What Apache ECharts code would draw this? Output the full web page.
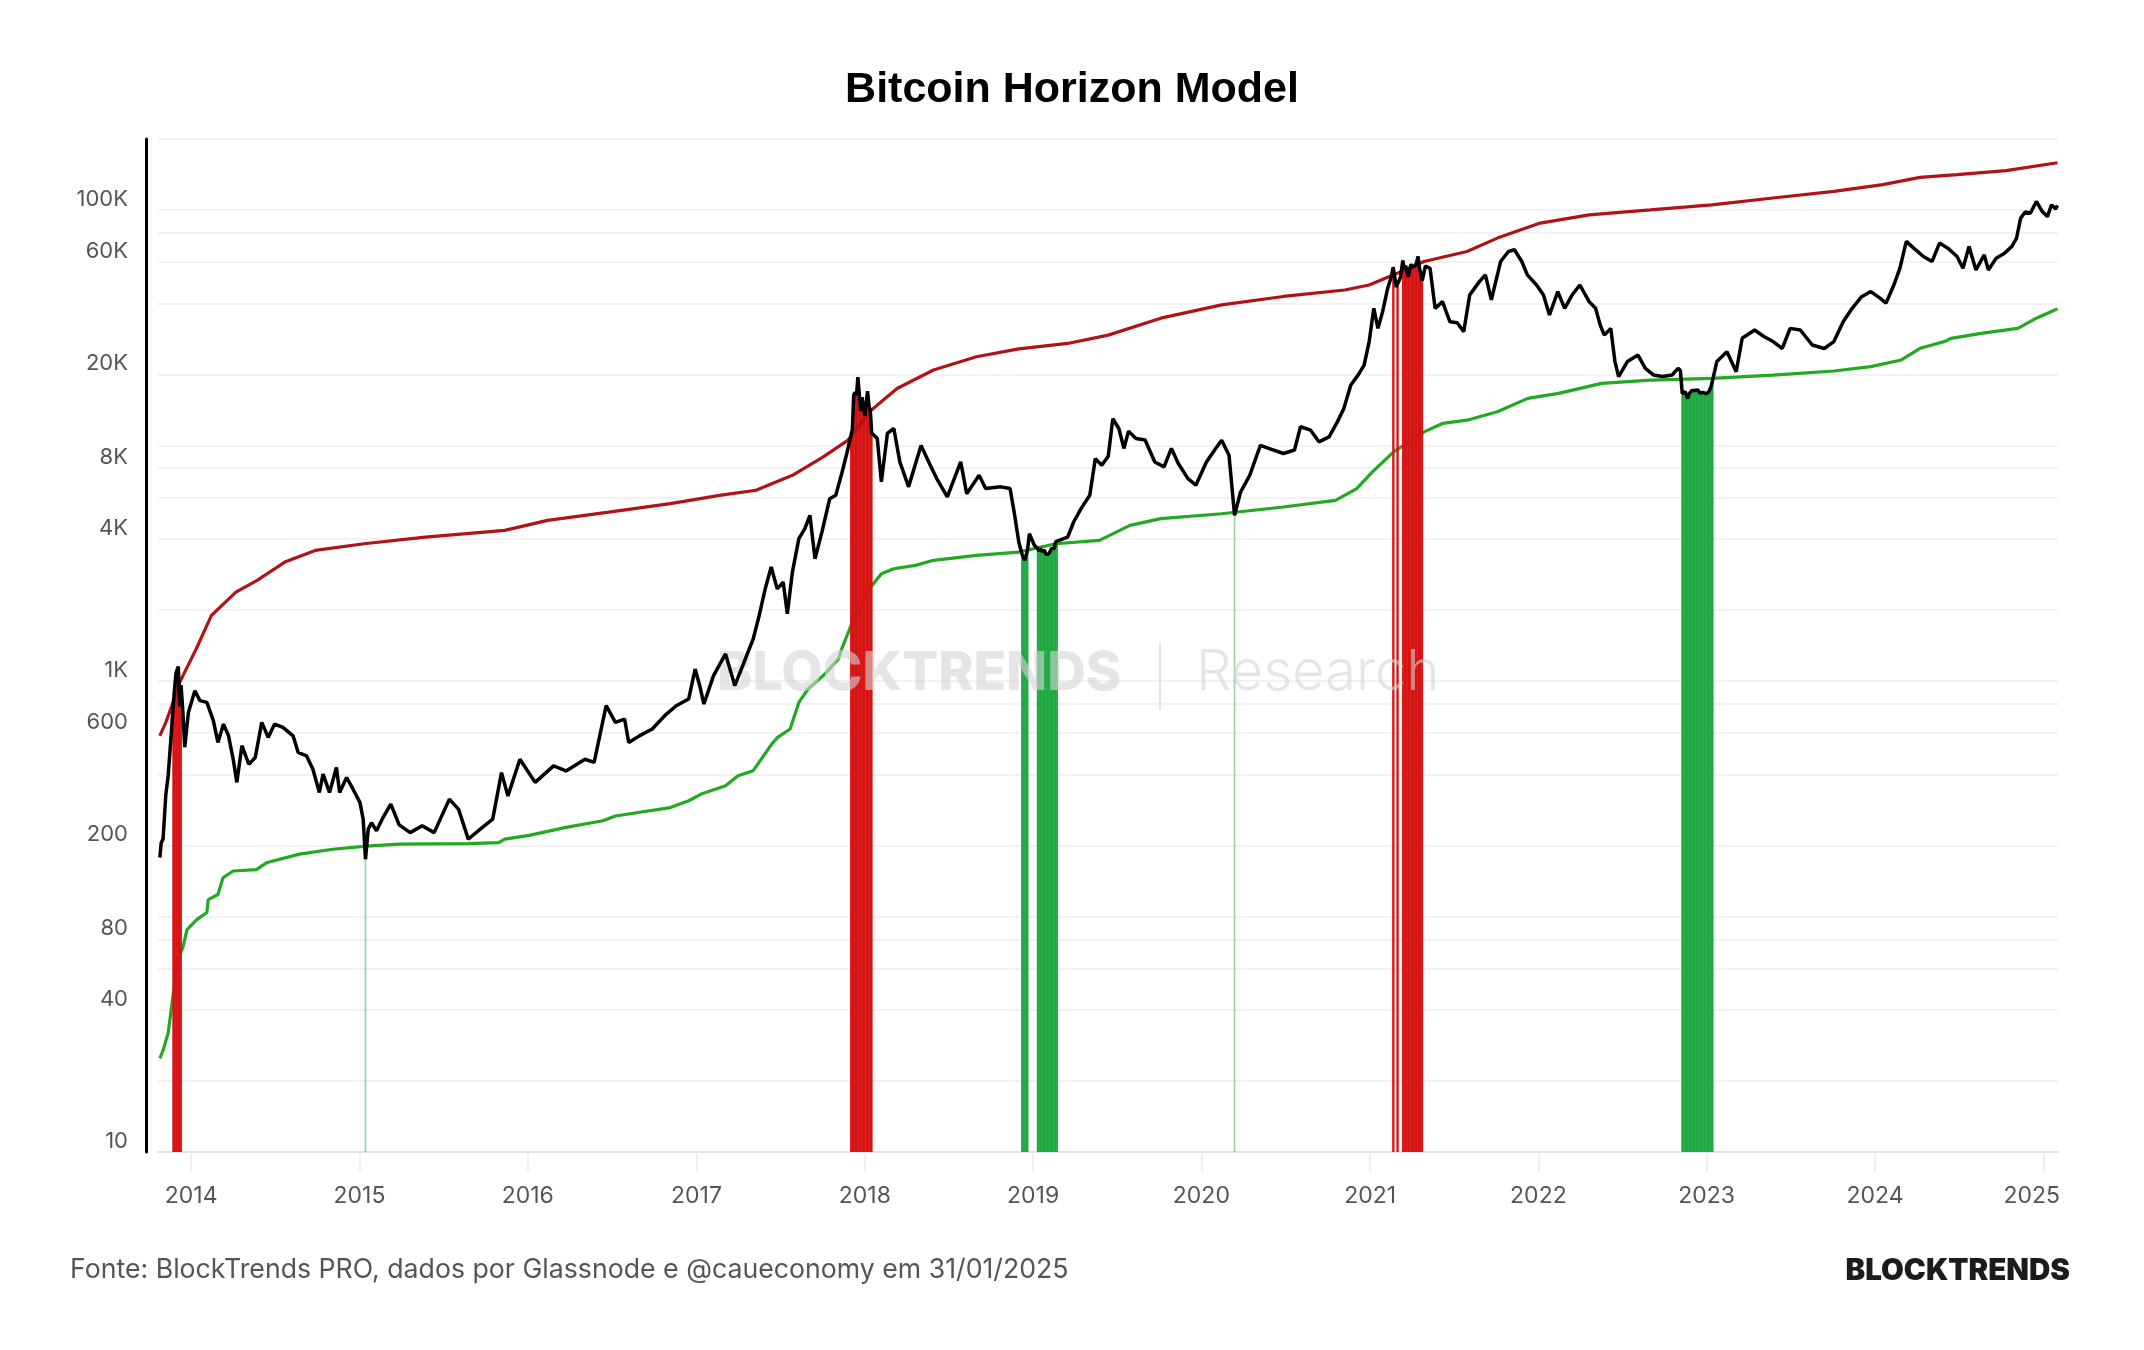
<!DOCTYPE html>
<html>
<head>
<meta charset="utf-8">
<title>Bitcoin Horizon Model</title>
<script src="https://cdn.jsdelivr.net/npm/echarts@6/dist/echarts.min.js"></script>
<style>
  html, body { margin: 0; padding: 0; background: #fff; }
  #chart { width: 2144px; height: 1350px; }
</style>
</head>
<body>
<div id="chart"></div>
<script>
// BTC price (USD)
const price = [
  ['2013-10-25', 178], ['2013-10-28', 206], ['2013-11-01', 213], ['2013-11-07', 330], ['2013-11-12', 395],
  ['2013-11-19', 605], ['2013-11-23', 790], ['2013-11-26', 930], ['2013-11-29', 1080], ['2013-12-01', 1100],
  ['2013-12-04', 1150], ['2013-12-07', 780], ['2013-12-10', 960], ['2013-12-14', 736], ['2013-12-18', 523],
  ['2013-12-26', 736], ['2014-01-09', 909], ['2014-01-20', 825], ['2014-02-04', 811], ['2014-02-18', 678],
  ['2014-02-28', 548], ['2014-03-12', 656], ['2014-03-23', 585], ['2014-04-02', 466], ['2014-04-10', 371],
  ['2014-04-21', 531], ['2014-05-06', 443], ['2014-05-20', 473], ['2014-06-03', 667], ['2014-06-17', 576],
  ['2014-07-01', 656], ['2014-07-19', 635], ['2014-08-10', 585], ['2014-08-21', 497], ['2014-09-08', 481],
  ['2014-09-22', 422], ['2014-10-06', 336], ['2014-10-14', 402], ['2014-10-28', 336], ['2014-11-12', 429],
  ['2014-11-19', 336], ['2014-12-04', 389], ['2014-12-18', 347], ['2015-01-02', 305], ['2015-01-09', 259],
  ['2015-01-14', 175], ['2015-01-20', 235], ['2015-01-27', 250], ['2015-02-07', 231], ['2015-02-21', 263],
  ['2015-03-10', 300], ['2015-03-28', 245], ['2015-04-21', 227], ['2015-05-17', 243], ['2015-06-12', 227],
  ['2015-07-15', 315], ['2015-08-04', 285], ['2015-08-25', 213], ['2015-09-20', 235], ['2015-10-17', 259],
  ['2015-11-05', 408], ['2015-11-19', 325], ['2015-12-15', 465], ['2016-01-17', 371], ['2016-02-26', 436],
  ['2016-03-24', 415], ['2016-05-04', 465], ['2016-05-24', 451], ['2016-06-19', 785], ['2016-07-09', 667],
  ['2016-07-29', 689], ['2016-08-07', 548], ['2016-08-31', 586], ['2016-09-27', 625], ['2016-10-24', 712],
  ['2016-11-18', 785], ['2016-12-15', 838], ['2016-12-29', 1124], ['2017-01-08', 955], ['2017-01-17', 798],
  ['2017-02-07', 1054], ['2017-03-05', 1303], ['2017-03-25', 955], ['2017-04-14', 1200], ['2017-05-04', 1510],
  ['2017-05-17', 1897], ['2017-05-30', 2461], ['2017-06-12', 3046], ['2017-06-25', 2461], ['2017-07-08', 2630],
  ['2017-07-17', 1929], ['2017-07-28', 2900], ['2017-08-11', 4018], ['2017-08-24', 4434], ['2017-09-04', 5050],
  ['2017-09-15', 3300], ['2017-09-30', 4290], ['2017-10-17', 5940], ['2017-10-30', 6140], ['2017-11-12', 7600],
  ['2017-11-23', 9240], ['2017-12-02', 11000], ['2017-12-05', 11700], ['2017-12-08', 16400], ['2017-12-11', 16800],
  ['2017-12-14', 16300], ['2017-12-17', 19500], ['2017-12-20', 16500], ['2017-12-23', 14000], ['2017-12-26', 16000],
  ['2017-12-29', 14500], ['2018-01-01', 13400], ['2018-01-04', 15200], ['2018-01-07', 17000], ['2018-01-10', 14800],
  ['2018-01-13', 14000], ['2018-01-16', 11300], ['2018-01-28', 10700], ['2018-02-06', 7000], ['2018-02-19', 11240],
  ['2018-03-05', 11800], ['2018-03-18', 8510], ['2018-04-06', 6670], ['2018-05-03', 10000], ['2018-05-23', 8240],
  ['2018-06-06', 7230], ['2018-06-29', 6040], ['2018-07-28', 8510], ['2018-08-10', 6240], ['2018-09-06', 7470],
  ['2018-09-20', 6560], ['2018-10-23', 6670], ['2018-11-12', 6560], ['2018-11-21', 5210], ['2018-12-01', 3890],
  ['2018-12-08', 3450], ['2018-12-11', 3400], ['2018-12-14', 3250], ['2018-12-17', 3300], ['2018-12-20', 3600],
  ['2018-12-24', 4220], ['2019-01-04', 3760], ['2019-01-11', 3650], ['2019-01-14', 3550], ['2019-01-17', 3650],
  ['2019-01-20', 3550], ['2019-01-23', 3580], ['2019-01-26', 3580], ['2019-01-29', 3450], ['2019-02-01', 3480],
  ['2019-02-04', 3450], ['2019-02-07', 3400], ['2019-02-10', 3650], ['2019-02-13', 3600], ['2019-02-16', 3650],
  ['2019-02-19', 3900], ['2019-02-22', 3950], ['2019-03-17', 4080], ['2019-03-30', 4730], ['2019-04-15', 5390],
  ['2019-05-04', 6140], ['2019-05-16', 8790], ['2019-05-30', 8240], ['2019-06-13', 9000], ['2019-06-23', 13000],
  ['2019-07-06', 11800], ['2019-07-17', 9710], ['2019-07-27', 11500], ['2019-08-12', 10700], ['2019-09-01', 10550],
  ['2019-09-22', 8510], ['2019-10-12', 8110], ['2019-10-28', 9710], ['2019-11-12', 8380], ['2019-12-03', 7230],
  ['2019-12-20', 6780], ['2020-01-12', 8510], ['2020-02-01', 9710], ['2020-02-14', 10520], ['2020-03-01', 9080],
  ['2020-03-13', 5050], ['2020-03-26', 6340], ['2020-04-15', 7470], ['2020-05-08', 10000], ['2020-05-26', 9710],
  ['2020-06-27', 9240], ['2020-07-21', 9560], ['2020-08-03', 12000], ['2020-08-25', 11610], ['2020-09-12', 10360],
  ['2020-10-04', 10870], ['2020-10-22', 12590], ['2020-11-05', 14350], ['2020-11-20', 18030], ['2020-12-06', 19900],
  ['2020-12-19', 21940], ['2020-12-30', 27600], ['2021-01-09', 38200], ['2021-01-18', 31400], ['2021-01-28', 36900],
  ['2021-02-08', 46400], ['2021-02-16', 52000], ['2021-02-20', 57000], ['2021-02-21', 57500], ['2021-02-27', 47000],
  ['2021-03-01', 49500], ['2021-03-02', 48500], ['2021-03-08', 52000], ['2021-03-13', 61000], ['2021-03-16', 56000],
  ['2021-03-19', 58000], ['2021-03-22', 54500], ['2021-03-25', 52000], ['2021-03-28', 55800], ['2021-03-31', 58800],
  ['2021-04-03', 57000], ['2021-04-06', 58000], ['2021-04-09', 58000], ['2021-04-12', 60000], ['2021-04-15', 63500],
  ['2021-04-18', 56500], ['2021-04-21', 54000], ['2021-04-24', 50000], ['2021-05-01', 57800], ['2021-05-11', 56500],
  ['2021-05-22', 38200], ['2021-06-07', 40800], ['2021-06-23', 33500], ['2021-07-09', 33200], ['2021-07-23', 30400],
  ['2021-08-05', 43500], ['2021-08-26', 49600], ['2021-09-08', 53000], ['2021-09-21', 41500], ['2021-10-11', 60400],
  ['2021-10-28', 66600], ['2021-11-10', 67700], ['2021-11-26', 60400], ['2021-12-08', 53000], ['2021-12-28', 48000],
  ['2022-01-12', 43500], ['2022-01-25', 35800], ['2022-02-12', 45000], ['2022-02-27', 38200], ['2022-03-15', 43500],
  ['2022-04-01', 48000], ['2022-04-21', 40800], ['2022-05-05', 38200], ['2022-05-15', 32500], ['2022-05-24', 29400],
  ['2022-06-07', 31400], ['2022-06-16', 22700], ['2022-06-24', 19600], ['2022-07-13', 22700], ['2022-08-05', 24200],
  ['2022-08-21', 21250], ['2022-09-08', 19900], ['2022-09-27', 19600], ['2022-10-18', 19900], ['2022-10-31', 21250],
  ['2022-11-05', 20800], ['2022-11-09', 16600], ['2022-11-12', 16800], ['2022-11-15', 16900], ['2022-11-18', 16700],
  ['2022-11-21', 15800], ['2022-11-24', 16600], ['2022-11-27', 16500], ['2022-11-30', 17100], ['2022-12-03', 17000],
  ['2022-12-06', 17100], ['2022-12-09', 17100], ['2022-12-12', 17200], ['2022-12-15', 17400], ['2022-12-18', 16700],
  ['2022-12-21', 16800], ['2022-12-24', 16800], ['2022-12-27', 16700], ['2022-12-30', 16600], ['2023-01-02', 16700],
  ['2023-01-05', 16800], ['2023-01-08', 17100], ['2023-01-11', 17900], ['2023-01-14', 19000], ['2023-01-23', 22700],
  ['2023-02-14', 25000], ['2023-03-06', 20560], ['2023-03-19', 28500], ['2023-04-15', 30900], ['2023-05-05', 29000],
  ['2023-05-25', 27600], ['2023-06-14', 25800], ['2023-07-01', 31400], ['2023-07-23', 30900], ['2023-08-18', 26700],
  ['2023-09-13', 25800], ['2023-10-04', 27600], ['2023-10-24', 33500], ['2023-11-10', 37600], ['2023-12-03', 42800],
  ['2023-12-23', 45000], ['2024-01-12', 42200], ['2024-01-25', 40200], ['2024-02-11', 48000], ['2024-02-24', 56500],
  ['2024-03-09', 73500], ['2024-03-25', 68800], ['2024-04-15', 63400], ['2024-05-04', 60400], ['2024-05-20', 72300],
  ['2024-06-07', 68800], ['2024-06-27', 63400], ['2024-07-10', 56500], ['2024-07-23', 70000], ['2024-08-07', 55600],
  ['2024-08-25', 64400], ['2024-09-03', 55600], ['2024-09-20', 62400], ['2024-10-08', 65500], ['2024-10-24', 70000],
  ['2024-11-03', 75800], ['2024-11-12', 92300], ['2024-11-22', 98000], ['2024-12-03', 96800], ['2024-12-16', 108600],
  ['2024-12-29', 98400], ['2025-01-09', 93700], ['2025-01-18', 105000], ['2025-01-27', 101000], ['2025-01-31', 104500]
];

// upper band of the model (red line)
const upperModel = [
  ['2013-10-25', 585], ['2013-11-07', 667], ['2013-11-20', 785], ['2013-12-07', 986], ['2014-01-12', 1370],
  ['2014-02-14', 1897], ['2014-04-08', 2383], ['2014-05-24', 2672], ['2014-07-23', 3197], ['2014-09-27', 3582],
  ['2015-01-11', 3825], ['2015-05-24', 4083], ['2015-11-12', 4356], ['2016-02-13', 4806], ['2016-06-25', 5210],
  ['2016-11-05', 5660], ['2017-02-20', 6140], ['2017-05-10', 6450], ['2017-07-28', 7470], ['2017-10-03', 8940],
  ['2017-11-25', 10500], ['2018-01-11', 13890], ['2018-03-12', 17450], ['2018-05-30', 20900], ['2018-08-31', 23800],
  ['2018-12-01', 25700], ['2019-03-17', 27100], ['2019-06-13', 29400], ['2019-10-05', 34700], ['2020-02-14', 39500],
  ['2020-06-27', 42900], ['2020-11-07', 45700], ['2020-12-30', 48000], ['2021-02-21', 53000], ['2021-04-28', 60400],
  ['2021-07-30', 66600], ['2021-10-04', 75900], ['2022-01-05', 87900], ['2022-04-21', 95300], ['2022-09-01', 100000],
  ['2023-01-12', 105000], ['2023-05-25', 112300], ['2023-10-04', 119900], ['2024-01-18', 128000], ['2024-04-08', 137500],
  ['2024-06-27', 141100], ['2024-10-11', 146800], ['2025-01-31', 158500]
];

// lower band of the model (green line)
const lowerModel = [
  ['2013-10-25', 25], ['2013-11-01', 27], ['2013-11-12', 32], ['2013-11-20', 42], ['2013-11-26', 52],
  ['2013-12-03', 65], ['2013-12-14', 74], ['2013-12-23', 88], ['2014-01-13', 97], ['2014-02-04', 104],
  ['2014-02-07', 118], ['2014-02-28', 124], ['2014-03-11', 146], ['2014-04-02', 156], ['2014-05-22', 158],
  ['2014-06-13', 169], ['2014-08-24', 184], ['2014-11-04', 193], ['2015-01-16', 199], ['2015-03-29', 203],
  ['2015-08-25', 204], ['2015-10-30', 206], ['2015-11-12', 213], ['2016-01-04', 221], ['2016-03-24', 239],
  ['2016-06-12', 255], ['2016-07-09', 267], ['2016-11-05', 290], ['2016-12-15', 310], ['2017-01-11', 331],
  ['2017-03-05', 359], ['2017-04-01', 396], ['2017-05-04', 416], ['2017-05-24', 473], ['2017-06-13', 539],
  ['2017-06-26', 576], ['2017-07-23', 625], ['2017-08-11', 811], ['2017-08-31', 925], ['2017-10-03', 1054],
  ['2017-11-05', 1241], ['2017-11-12', 1368], ['2017-12-08', 1837], ['2018-01-11', 2462], ['2018-02-06', 2851],
  ['2018-03-05', 2996], ['2018-04-21', 3096], ['2018-05-30', 3252], ['2018-08-31', 3414], ['2018-12-01', 3526],
  ['2019-02-19', 3825], ['2019-05-25', 3950], ['2019-07-30', 4578], ['2019-10-05', 4886], ['2020-02-14', 5128],
  ['2020-06-27', 5478], ['2020-10-18', 5845], ['2020-12-03', 6557], ['2021-01-06', 7721], ['2021-02-21', 9392],
  ['2021-04-28', 11420], ['2021-06-07', 12400], ['2021-07-30', 12800], ['2021-10-04', 13890], ['2021-12-09', 15840],
  ['2022-02-14', 16630], ['2022-05-18', 18340], ['2022-09-01', 18950], ['2023-01-12', 19270], ['2023-05-25', 19900],
  ['2023-10-04', 20700], ['2023-12-23', 21600], ['2024-02-27', 23060], ['2024-04-08', 25840], ['2024-05-31', 27600],
  ['2024-06-14', 28500], ['2024-08-18', 29900], ['2024-11-06', 31400], ['2024-12-16', 34700], ['2025-01-25', 37600],
  ['2025-01-31', 38000]
];

// periods flagged by the model (bars reach up to the price)
const sellZones = [
  ['2013-11-23', '2013-12-10'], ['2017-12-02', '2018-01-16'],
  ['2021-02-20', '2021-02-21'], ['2021-03-01', '2021-03-02'], ['2021-03-13', '2021-04-24']
];
const buyZones = [
  ['2015-01-14', '2015-01-14'], ['2018-12-08', '2018-12-20'], ['2019-01-11', '2019-02-22'],
  ['2020-03-13', '2020-03-13'], ['2022-11-09', '2023-01-14']
];

const yLabelValues = [10, 40, 80, 200, 600, 1000, 4000, 8000, 20000, 60000, 100000];
const yGridValues = [10, 20, 40, 60, 80, 100, 200, 400, 600, 800, 1000, 2000, 4000, 6000, 8000,
  10000, 20000, 40000, 60000, 80000, 100000, 200000];
const yearTicks = ['2014-01-01', '2015-01-01', '2016-01-01', '2017-01-01', '2018-01-01', '2019-01-01',
  '2020-01-01', '2021-01-01', '2022-01-01', '2023-01-01', '2024-01-01', '2025-01-01'];

const ts = d => Date.parse(d);
const toXY = arr => arr.map(([d, v]) => [ts(d), v]);

function zoneBars(zones) {
  const out = [];
  zones.forEach(([s, e]) => {
    const single = s === e;
    price.forEach(([d, v]) => {
      if (d >= s && d <= e) {
        out.push(single ? { value: [ts(d), v], itemStyle: { opacity: 0.45 } } : [ts(d), v]);
      }
    });
  });
  return out;
}

const fmtK = v => (v >= 1000 ? Math.round(v / 1000) + 'K' : String(Math.round(v)));
const yearTs = yearTicks.map(ts);
const lastTick = yearTs[yearTs.length - 1];
const markColor = 'rgba(212, 212, 212, 0.6)';

const chart = echarts.init(document.getElementById('chart'));
chart.setOption({
  animation: false,
  backgroundColor: '#ffffff',
  textStyle: { fontFamily: 'Inter, "Noto Sans", sans-serif' },
  title: {
    text: 'Bitcoin Horizon Model',
    left: 'center',
    top: 64,
    textStyle: { fontFamily: '"Liberation Sans", Arial, sans-serif', fontWeight: 'bold', fontSize: 43, color: '#000' }
  },
  grid: { left: 158, right: 86, top: 139, bottom: 198 },
  xAxis: {
    type: 'value',
    min: ts('2013-10-21'),
    max: ts('2025-02-01'),
    axisLine: { show: true, lineStyle: { color: '#e2e2e2', width: 2 } },
    axisTick: { show: true, customValues: yearTs, length: 20, lineStyle: { color: '#ebebeb', width: 1.5 } },
    axisLabel: {
      customValues: yearTs,
      margin: 33,
      fontSize: 23,
      color: '#555',
      formatter: v => {
        const y = new Date(v).getUTCFullYear();
        return v === lastTick ? '{r|' + y + '}' : String(y);
      },
      rich: { r: { fontSize: 23, color: '#555', fontFamily: 'Inter', padding: [0, 24, 0, 0] } }
    },
    splitLine: { show: false }
  },
  yAxis: {
    type: 'log',
    logBase: 10,
    min: 10,
    max: 200000,
    offset: 12,
    axisLine: { show: true, lineStyle: { color: '#000', width: 3 } },
    axisTick: { show: false, customValues: yGridValues },
    axisLabel: {
      customValues: yLabelValues,
      formatter: fmtK,
      verticalAlign: 'bottom',
      margin: 18,
      fontSize: 22,
      color: '#555'
    },
    splitLine: { show: true, lineStyle: { color: '#eeeeee', width: 1.5 } }
  },
  graphic: [
    { type: 'text', left: 717, top: 647, z: 4, silent: true,
      style: { text: 'BLOCKTRENDS', font: '800 53.5px Inter', fill: markColor } },
    { type: 'rect', z: 4, silent: true, shape: { x: 1159, y: 642, width: 2, height: 68 }, style: { fill: markColor } },
    { type: 'text', left: 1196, top: 645, z: 4, silent: true,
      style: { text: 'Research', font: '300 56px Inter', fill: markColor } },
    { type: 'text', left: 70, top: 1256,
      style: { text: 'Fonte: BlockTrends PRO, dados por Glassnode e @caueconomy em 31/01/2025', font: '26.7px Inter', fill: '#555' } },
    { type: 'text', right: 74, top: 1256,
      style: { text: 'BLOCKTRENDS', font: '900 29.5px Inter', fill: '#1b1b1f' } }
  ],
  series: [
    {
      name: 'Lower', type: 'line', data: toXY(lowerModel), showSymbol: false, z: 2,
      lineStyle: { color: '#22a822', width: 3.2 }
    },
    {
      name: 'Buy', type: 'bar', data: zoneBars(buyZones), barWidth: 1.8, barGap: '-100%', z: 3,
      itemStyle: { color: '#1ea842' }
    },
    {
      name: 'Sell', type: 'bar', data: zoneBars(sellZones), barWidth: 1.8, barGap: '-100%', z: 3,
      itemStyle: { color: '#d61212' }
    },
    {
      name: 'Upper', type: 'line', data: toXY(upperModel), showSymbol: false, z: 5,
      lineStyle: { color: '#b01316', width: 3.2 }
    },
    {
      name: 'Price', type: 'line', data: toXY(price), showSymbol: false, z: 6,
      lineStyle: { color: '#000', width: 3.5 }
    }
  ]
});
</script>
</body>
</html>
